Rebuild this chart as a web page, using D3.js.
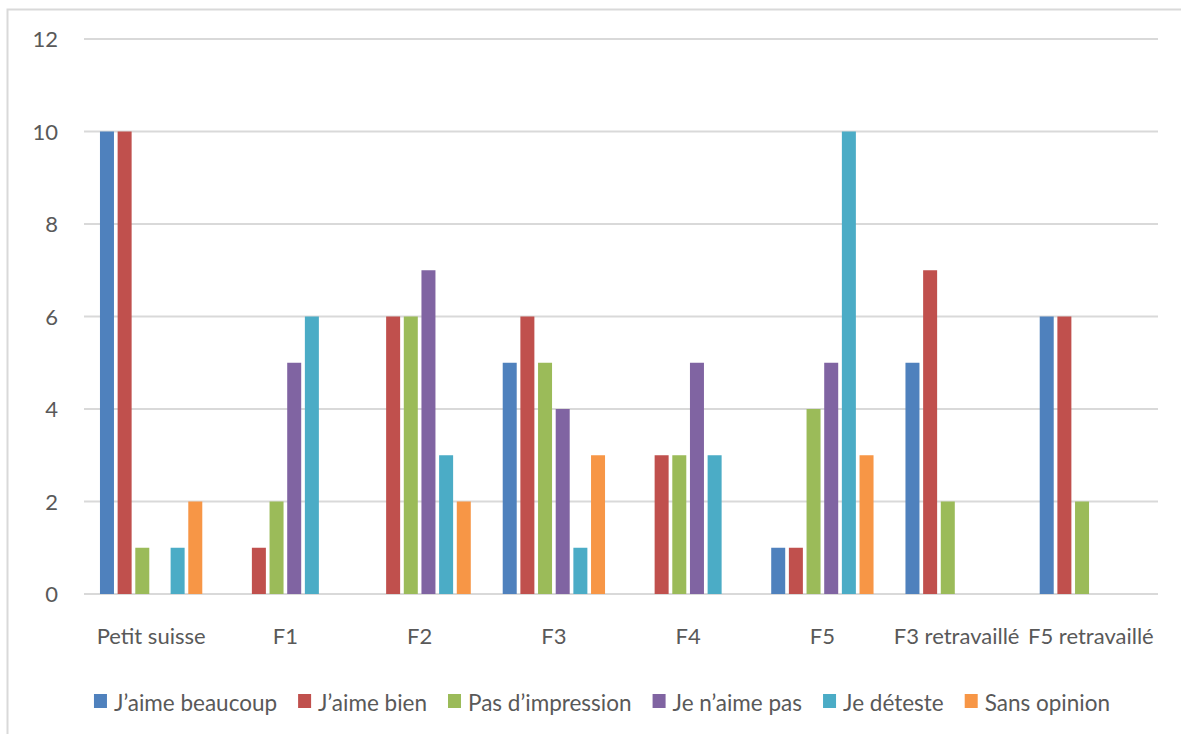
<!DOCTYPE html>
<html>
<head>
<meta charset="utf-8">
<script src="https://cdn.jsdelivr.net/npm/d3@7/dist/d3.min.js"></script>
<style>
  html, body { margin: 0; padding: 0; background: #fff; }
  svg text { font-family: Lato, "Open Sans", sans-serif; fill: #595959; }
</style>
</head>
<body>
<svg id="chart" width="1181" height="734"></svg>
<script>
const categories = ["Petit suisse", "F1", "F2", "F3", "F4", "F5", "F3 retravaillé", "F5 retravaillé"];
const seriesNames = ["J\u2019aime beaucoup", "J\u2019aime bien", "Pas d\u2019impression", "Je n\u2019aime pas", "Je déteste", "Sans opinion"];
const seriesColors = ["#4F81BD", "#C0504D", "#9BBB59", "#8064A2", "#4BACC6", "#F79646"];
const aimeBeaucoup  = [10, 0, 0, 5, 0, 1, 5, 6];
const aimeBien      = [10, 1, 6, 6, 3, 1, 7, 6];
const pasImpression = [1, 2, 6, 5, 3, 4, 2, 2];
const aimePas       = [0, 5, 7, 4, 5, 5, 0, 0];
const deteste       = [1, 6, 3, 1, 3, 10, 0, 0];
const sansOpinion   = [2, 0, 2, 3, 0, 3, 0, 0];
const yTicks = [0, 2, 4, 6, 8, 10, 12];

const seriesValues = [aimeBeaucoup, aimeBien, pasImpression, aimePas, deteste, sansOpinion];

const svg = d3.select("#chart");

// chart frame (top and left edges visible)
svg.append("path")
  .attr("d", "M7.5,734 L7.5,9.5 L1181,9.5")
  .attr("fill", "none")
  .attr("stroke", "#d9d9d9")
  .attr("stroke-width", 2);

const plot = { left: 84, right: 1158, top: 39, bottom: 594 };

const x0 = d3.scaleBand()
  .domain(categories)
  .range([plot.left, plot.right])
  .paddingInner(0).paddingOuter(0);

const step = x0.bandwidth() / 7.6;
const barW = 14;

const y = d3.scaleLinear().domain([0, 12]).range([plot.bottom, plot.top]);

// horizontal gridlines
svg.append("g").selectAll("line")
  .data(yTicks)
  .join("line")
  .attr("x1", plot.left).attr("x2", plot.right)
  .attr("y1", d => y(d)).attr("y2", d => y(d))
  .attr("stroke", "#d9d9d9")
  .attr("stroke-width", 2);

// y tick labels
svg.append("g").selectAll("text")
  .data(yTicks)
  .join("text")
  .attr("x", 58)
  .attr("y", d => y(d) + 8)
  .attr("text-anchor", "end")
  .attr("font-size", 22)
  .text(d => d);

// bars
const groups = svg.append("g").selectAll("g")
  .data(categories)
  .join("g")
  .attr("transform", c => `translate(${x0(c) + x0.bandwidth() / 2},0)`);

groups.each(function (c, ci) {
  d3.select(this).selectAll("rect")
    .data(seriesValues.map((vals, si) => ({ si, v: vals[ci] })).filter(d => d.v > 0))
    .join("rect")
    .attr("x", d => (d.si - 2.5) * step - barW / 2)
    .attr("width", barW)
    .attr("y", d => y(d.v))
    .attr("height", d => y(0) - y(d.v))
    .attr("fill", d => seriesColors[d.si]);
});

// category labels
svg.append("g").selectAll("text")
  .data(categories)
  .join("text")
  .attr("x", c => x0(c) + x0.bandwidth() / 2)
  .attr("y", 644)
  .attr("text-anchor", "middle")
  .attr("font-size", 22)
  .text(c => c);

// legend
const legend = svg.append("g");
const items = legend.selectAll("g")
  .data(seriesNames)
  .join("g");
items.append("rect")
  .attr("width", 13).attr("height", 14)
  .attr("y", 694)
  .attr("fill", (d, i) => seriesColors[i]);
items.append("text")
  .attr("x", 20)
  .attr("y", 711)
  .attr("font-size", 22.5)
  .text(d => d);

let widths = [];
items.each(function () {
  widths.push(d3.select(this).select("text").node().getComputedTextLength());
});
const gap = 21;
const total = d3.sum(widths.map(w => 20 + w)) + gap * (widths.length - 1);
let cursor = 602 - total / 2;
items.attr("transform", (d, i) => {
  const t = `translate(${cursor},0)`;
  cursor += 20 + widths[i] + gap;
  return t;
});
</script>
</body>
</html>
